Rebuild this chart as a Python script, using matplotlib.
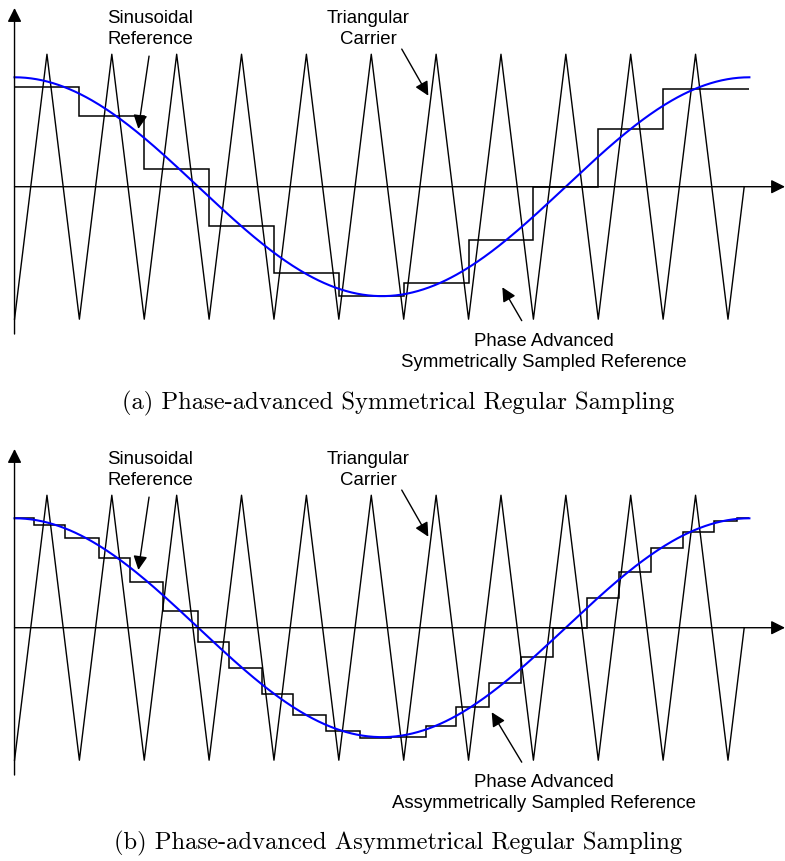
import matplotlib.pyplot as plt
import numpy as np

# time in carrier periods, amplitude normalised to the carrier peak
carrier_t = [0, 0.5, 1, 1.5, 2, 2.5, 3, 3.5, 4, 4.5, 5, 5.5, 6, 6.5,
             7, 7.5, 8, 8.5, 9, 9.5, 10, 10.5, 11, 11.25]
carrier_v = [-1, 1, -1, 1, -1, 1, -1, 1, -1, 1, -1, 1, -1, 1,
             -1, 1, -1, 1, -1, 1, -1, 1, -1, 0]

ref_amp = 0.826
ref_period = 11.33

# (a) one sample per carrier period
sym_edges = [0, 1, 2, 3, 4, 5, 6, 7, 8, 9, 10, 11.33]
sym_levels = [0.755, 0.536, 0.134, -0.294, -0.651, -0.827,
              -0.727, -0.402, 0.0, 0.435, 0.737]

# (b) two samples per carrier period
asym_edges = [0, 0.3, 0.78, 1.3, 1.78, 2.29, 2.83, 3.3, 3.81, 4.3, 4.8,
              5.32, 5.81, 6.34, 6.8, 7.31, 7.81, 8.3, 8.82, 9.32, 9.82,
              10.3, 10.79, 11.14, 11.33]
asym_levels = [0.828, 0.777, 0.679, 0.524, 0.343, 0.128, -0.106, -0.302,
               -0.5, -0.658, -0.777, -0.835, -0.823, -0.74, -0.601, -0.42,
               -0.219, 0.0, 0.224, 0.418, 0.599, 0.725, 0.805, 0.826]

label_font = 'Liberation Sans'
head = '-|>,head_length=0.6,head_width=0.3'


def arrow(ax, start, tip):
    ax.annotate('', xy=tip, xytext=start,
                arrowprops=dict(arrowstyle=head, color='k', lw=1.0,
                                mutation_scale=14, shrinkA=0, shrinkB=0),
                annotation_clip=False)


def label(ax, x, y, s):
    ax.text(x, y, s, ha='center', va='center', family=label_font,
            fontsize=13.4, linespacing=1.3)


def draw_panel(ax, edges, levels, sample_label, sample_start, sample_tip):
    ax.set_xlim(-0.224, 11.879)
    ax.set_ylim(-1.527, 1.417)
    ax.axis('off')

    # axes with arrow heads
    arrow(ax, (0, -1.112), (0, 1.349))
    arrow(ax, (0, 0), (11.879, 0))

    ax.plot(carrier_t, carrier_v, color='k', lw=1.0)
    ax.stairs(levels, edges, baseline=None, color='k', lw=1.1)

    t = np.linspace(0, ref_period, 400)
    ax.plot(t, ref_amp * np.cos(2 * np.pi * t / ref_period), color='#0000ff', lw=1.5)

    label(ax, 2.089, 1.198, 'Sinusoidal\nReference')
    arrow(ax, (2.074, 0.986), (1.909, 0.436))

    label(ax, 5.45, 1.198, 'Triangular\nCarrier')
    arrow(ax, (5.97, 1.039), (6.38, 0.687))

    label(ax, 8.164, -1.237, sample_label)
    arrow(ax, sample_start, sample_tip)


fig = plt.figure(figsize=(7.85, 8.62), dpi=100)
ax_a = fig.add_axes([0, 1 - 390 / 862, 1, 390 / 862])
ax_b = fig.add_axes([0, 31 / 862, 1, 390 / 862])

draw_panel(ax_a, sym_edges, sym_levels,
           'Phase Advanced\nSymmetrically Sampled Reference',
           (7.82, -1.011), (7.521, -0.759))
draw_panel(ax_b, asym_edges, asym_levels,
           'Phase Advanced\nAssymmetrically Sampled Reference',
           (7.82, -1.015), (7.357, -0.638))

fig.text(0.507, 1 - 403 / 862, '(a) Phase-advanced Symmetrical Regular Sampling',
         ha='center', va='center', family='cmr10', fontsize=17.7)
fig.text(0.507, 1 - 843 / 862, '(b) Phase-advanced Asymmetrical Regular Sampling',
         ha='center', va='center', family='cmr10', fontsize=17.7)

fig.savefig('out.png', dpi=100, facecolor='white')
